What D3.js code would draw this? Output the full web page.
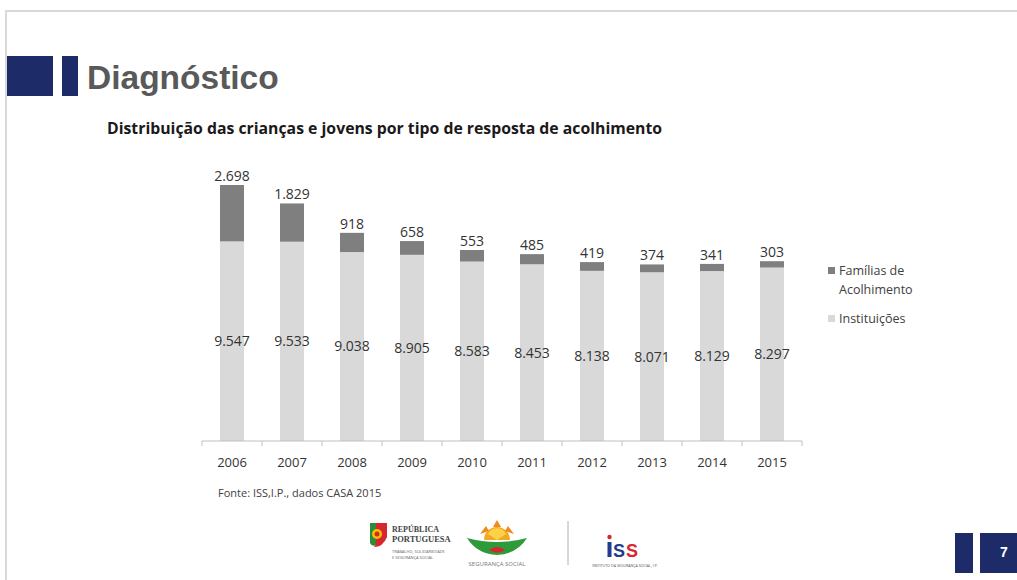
<!DOCTYPE html>
<html>
<head>
<meta charset="utf-8">
<script src="https://cdn.jsdelivr.net/npm/d3@7"></script>
<style>
  html, body { margin: 0; padding: 0; background: #fff; }
  svg { display: block; }
</style>
</head>
<body>
<svg id="slide" width="1017" height="580"></svg>
<script>
// Crianças e jovens em acolhimento, por tipo de resposta
const years = ["2006","2007","2008","2009","2010","2011","2012","2013","2014","2015"];
const familias = [2698, 1829, 918, 658, 553, 485, 419, 374, 341, 303];
const instituicoes = [9547, 9533, 9038, 8905, 8583, 8453, 8138, 8071, 8129, 8297];
const seriesNames = ["Famílias de Acolhimento", "Instituições"];
const seriesColors = ["#7f7f7f", "#d9d9d9"];

const fmt = d3.formatLocale({ decimal: ",", thousands: ".", grouping: [3], currency: ["", "€"] }).format(",d");

const svg = d3.select("#slide");
const chartFont = "'Open Sans', 'Noto Sans', sans-serif";

// slide frame
svg.append("line").attr("x1", 6).attr("x2", 1017).attr("y1", 11).attr("y2", 11)
  .attr("stroke", "#d9d9d9").attr("stroke-width", 2);
svg.append("line").attr("x1", 6).attr("x2", 6).attr("y1", 10).attr("y2", 580)
  .attr("stroke", "#d9d9d9").attr("stroke-width", 2);

// header blocks and title
const navy = "#1d2b68";
svg.append("rect").attr("x", 7).attr("y", 56).attr("width", 46).attr("height", 40).attr("fill", navy);
svg.append("rect").attr("x", 62).attr("y", 56).attr("width", 16).attr("height", 40).attr("fill", navy);
svg.append("text").attr("x", 87).attr("y", 89)
  .attr("font-family", "'Liberation Sans', Arial, sans-serif").attr("font-weight", "bold")
  .attr("font-size", 33.5).attr("fill", "#595959").text("Diagnóstico");

svg.append("text").attr("x", 107).attr("y", 134)
  .attr("font-family", chartFont).attr("font-weight", "bold")
  .attr("font-size", 15.8).attr("fill", "#1a1a1a")
  .text("Distribuição das crianças e jovens por tipo de resposta de acolhimento");

// scales
const x = d3.scaleBand().domain(years).range([202, 802]).paddingInner(0.6).paddingOuter(0.3);
const y = d3.scaleLinear().domain([0, 14000]).range([441, 148.3]);

const rows = years.map((yr, i) => ({ year: yr, Instituicoes: instituicoes[i], Familias: familias[i] }));
const stack = d3.stack().keys(["Instituicoes", "Familias"])(rows);
const colorOf = { Instituicoes: seriesColors[1], Familias: seriesColors[0] };

const g = svg.append("g");
g.selectAll("g.series").data(stack).join("g")
  .attr("class", "series").attr("fill", d => colorOf[d.key])
  .selectAll("rect").data(d => d).join("rect")
  .attr("x", d => x(d.data.year))
  .attr("width", x.bandwidth())
  .attr("y", d => y(d[1]))
  .attr("height", d => y(d[0]) - y(d[1]));

// value labels
const instLayer = stack[0], famLayer = stack[1];
g.selectAll("text.inst").data(instLayer).join("text")
  .attr("class", "inst")
  .attr("x", d => x(d.data.year) + x.bandwidth() / 2)
  .attr("y", d => (y(d[0]) + y(d[1])) / 2)
  .attr("dy", "0.35em")
  .attr("text-anchor", "middle")
  .attr("font-family", chartFont).attr("font-size", 14).attr("fill", "#333")
  .text(d => fmt(d.data.Instituicoes));
g.selectAll("text.fam").data(famLayer).join("text")
  .attr("class", "fam")
  .attr("x", d => x(d.data.year) + x.bandwidth() / 2)
  .attr("y", d => y(d[1]) - 4)
  .attr("text-anchor", "middle")
  .attr("font-family", chartFont).attr("font-size", 14).attr("fill", "#333")
  .text(d => fmt(d.data.Familias));

// category axis
const axis = svg.append("g").attr("transform", `translate(0,${y(0)})`)
  .call(d3.axisBottom(x).tickSize(0).tickPadding(17));
axis.select(".domain").attr("stroke", "#bfbfbf").attr("d", "M202,0H802");
axis.selectAll("text").attr("font-family", chartFont).attr("font-size", 13).attr("fill", "#333");
axis.selectAll("line.sep").data(d3.range(years.length + 1)).join("line")
  .attr("class", "sep")
  .attr("x1", i => 202 + i * x.step()).attr("x2", i => 202 + i * x.step())
  .attr("y1", 0).attr("y2", 5).attr("stroke", "#bfbfbf");

// legend
const legend = svg.append("g").attr("font-family", chartFont).attr("font-size", 12.5).attr("fill", "#404040");
legend.append("rect").attr("x", 828).attr("y", 267).attr("width", 7).attr("height", 7).attr("fill", seriesColors[0]);
legend.append("text").attr("x", 839).attr("y", 275).text("Famílias de");
legend.append("text").attr("x", 839).attr("y", 294).text("Acolhimento");
legend.append("rect").attr("x", 828).attr("y", 315).attr("width", 7).attr("height", 7).attr("fill", seriesColors[1]);
legend.append("text").attr("x", 839).attr("y", 323).text("Instituições");

// source note
svg.append("text").attr("x", 218).attr("y", 497)
  .attr("font-family", chartFont).attr("font-size", 11).attr("fill", "#404040")
  .text("Fonte: ISS,I.P., dados CASA 2015");

// footer logos
const logos = svg.append("g");
// República Portuguesa emblem
const rp = logos.append("g").attr("transform", "translate(368,523)");
rp.append("path").attr("d", "M2,0 H8 V22 Q4,24 2,20 Z").attr("fill", "#2e8b3a");
rp.append("path").attr("d", "M8,0 H19 V14 Q15,24 6,24 Q8,22 8,18 Z").attr("fill", "#d7262e");
rp.append("circle").attr("cx", 9).attr("cy", 11).attr("r", 5).attr("fill", "#f2c500");
rp.append("circle").attr("cx", 9).attr("cy", 11).attr("r", 2.5).attr("fill", "#d7262e");
logos.append("text").attr("x", 392).attr("y", 532).attr("font-family", "'Liberation Serif', serif")
  .attr("font-weight", "bold").attr("font-size", 8).attr("fill", "#444").text("REPÚBLICA");
logos.append("text").attr("x", 392).attr("y", 542).attr("font-family", "'Liberation Serif', serif")
  .attr("font-weight", "bold").attr("font-size", 8.5).attr("fill", "#444").text("PORTUGUESA");
logos.append("text").attr("x", 392).attr("y", 553).attr("font-family", chartFont)
  .attr("font-size", 4).attr("fill", "#666").text("TRABALHO, SOLIDARIEDADE");
logos.append("text").attr("x", 392).attr("y", 559).attr("font-family", chartFont)
  .attr("font-size", 4).attr("fill", "#666").text("E SEGURANÇA SOCIAL");

// Segurança Social sun and bowl
const ss = logos.append("g").attr("transform", "translate(497,540)");
ss.append("path").attr("d", "M-13,0 A13,13 0 0 1 13,0 Z").attr("fill", "#f5a623");
ss.append("path").attr("d", "M-9,-6 A10,10 0 0 1 9,-6 L0,0 Z").attr("fill", "#fbd24a");
ss.append("path").attr("d", "M-17,-6 L-11,-14 L-8,-9 Z M17,-6 L11,-14 L8,-9 Z M-4,-13 L0,-20 L4,-13 Z")
  .attr("fill", "#f08a1c");
ss.append("path").attr("d", "M-30,-2 Q0,6 30,-2 Q20,14 0,15 Q-20,14 -30,-2 Z").attr("fill", "#2f9a3a");
ss.append("path").attr("d", "M-8,10 Q0,4 8,10 Q0,15 -8,10 Z").attr("fill", "#d7262e");
logos.append("text").attr("x", 497).attr("y", 566).attr("text-anchor", "middle")
  .attr("font-family", chartFont).attr("font-size", 6).attr("fill", "#777").text("SEGURANÇA SOCIAL");

logos.append("line").attr("x1", 568).attr("x2", 568).attr("y1", 521).attr("y2", 565)
  .attr("stroke", "#b0b0b0").attr("stroke-width", 1);

// ISS mark
const iss = logos.append("g").attr("transform", "translate(607,535)");
iss.append("circle").attr("cx", 2.5).attr("cy", 2).attr("r", 2.2).attr("fill", "#d7262e");
iss.append("rect").attr("x", 0.5).attr("y", 7).attr("width", 4).attr("height", 15).attr("fill", "#1f3c8f");
iss.append("text").attr("x", 6).attr("y", 22).attr("font-family", "'Liberation Sans', sans-serif")
  .attr("font-weight", "bold").attr("font-size", 18).attr("fill", "#1f3c8f").text("S");
iss.append("text").attr("x", 19).attr("y", 22).attr("font-family", "'Liberation Sans', sans-serif")
  .attr("font-weight", "bold").attr("font-size", 18).attr("fill", "#d7262e").text("S");
logos.append("text").attr("x", 625).attr("y", 567).attr("text-anchor", "middle")
  .attr("font-family", chartFont).attr("font-size", 3.6).attr("fill", "#555")
  .text("INSTITUTO DA SEGURANÇA SOCIAL, I.P.");

// page number
svg.append("rect").attr("x", 955).attr("y", 533).attr("width", 18).attr("height", 40).attr("fill", navy);
svg.append("rect").attr("x", 980).attr("y", 533).attr("width", 40).attr("height", 40).attr("fill", navy);
svg.append("text").attr("x", 1004).attr("y", 557).attr("text-anchor", "middle")
  .attr("font-family", "'Liberation Sans', Arial, sans-serif").attr("font-weight", "bold")
  .attr("font-size", 14).attr("fill", "#fff").text("7");
</script>
</body>
</html>
